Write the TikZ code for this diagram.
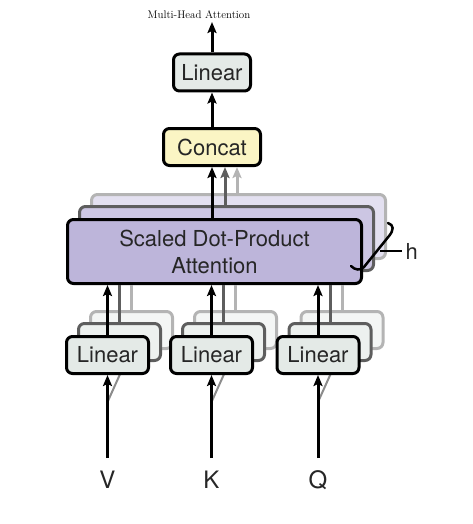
\documentclass[tikz,border=0pt]{standalone}
\usepackage{fontspec}
\setsansfont{TeX Gyre Heros}
\usetikzlibrary{arrows.meta}
\definecolor{linfill}{HTML}{E4EAE7}
\definecolor{linfillA}{HTML}{EDF1EF}
\definecolor{linfillB}{HTML}{F4F6F5}
\definecolor{catfill}{HTML}{FBF5C4}
\definecolor{sdpafill}{HTML}{BDB5DA}
\definecolor{sdpafillA}{HTML}{CCC6E3}
\definecolor{sdpafillB}{HTML}{E3E0F0}
\definecolor{greyA}{HTML}{5E5E5E}
\definecolor{greyB}{HTML}{B4B4B4}
\begin{document}
\begin{tikzpicture}[x=1pt,y=1pt,
  lbl/.style={font=\sffamily\fontsize{22}{26}\selectfont, text=black!85},
  box/.style={draw=black, line width=3pt, rounded corners=6pt, inner sep=0pt, align=center, lbl},
  copyA/.style={box, draw=greyA},
  copyB/.style={box, draw=greyB},
  linbox/.style={box, fill=linfill, minimum width=82pt, minimum height=37pt},
  linA/.style={copyA, fill=linfillA, minimum width=82pt, minimum height=37pt},
  linB/.style={copyB, fill=linfillB, minimum width=82pt, minimum height=37pt},
  sdpabox/.style={box, fill=sdpafill, minimum width=294pt, minimum height=64pt, font=\sffamily\fontsize{22}{27}\selectfont},
  sdpaA/.style={copyA, fill=sdpafillA, minimum width=294pt, minimum height=64pt},
  sdpaB/.style={copyB, fill=sdpafillB, minimum width=294pt, minimum height=64pt},
  arr/.style={line width=3pt, -{Stealth[length=11pt,width=9pt,inset=2pt]}},
  arrA/.style={arr, draw=greyA},
  arrB/.style={arr, draw=greyB},
  lineA/.style={line width=3pt, draw=greyA},
  lineB/.style={line width=3pt, draw=greyB},
  diag/.style={line width=2pt, draw=black!45},
]
\useasboundingbox (0,0) rectangle (472,-524);

% title
\node[font=\fontsize{11}{13}\selectfont] (title) at (199,-15) {Multi-Head Attention};

% output linear and concat
\node[linbox, minimum width=77pt] (linout) at (212,-72.5) {Linear};
\node[box, fill=catfill, minimum width=97pt, minimum height=37pt] (concat) at (212,-147) {Concat};
\coordinate (top) at (212,-22);
\draw[arr] (linout.north) -- (top);
\draw[arr] (concat.north) -- (linout.south);

% scaled dot-product attention stack
\node[sdpaB] (sdpaB) at (238.5,-226.5) {};
\node[sdpaA] (sdpaA) at (226.5,-238.5) {};
\draw[arrB] ([xshift=25pt]concat.south |- sdpaB.north) -- ([xshift=25pt]concat.south);
\draw[arrA] ([xshift=13pt]concat.south |- sdpaA.north) -- ([xshift=13pt]concat.south);
\node[sdpabox] (sdpa) at (214.5,-251.5) {Scaled Dot-Product\\Attention};
\draw[arr] (concat.south |- sdpa.north) -- (concat.south);

% h bracket
\draw[line width=2.5pt, line cap=round] (351,-266) .. controls (355,-270) and (360,-271) .. (364,-267) -- (389,-236) .. controls (394,-230) and (394,-225) .. (388,-223);
\coordinate (hl) at (380,-251);
\node[lbl, anchor=west] (h) at (402,-251) {h};
\draw[line width=2pt] (hl) -- (h.west);

% linear stacks
\foreach \n/\x/\t in {V/107.5/V, K/211.5/K, Q/318/Q}{
  \node[linB] (lin\n B) at (\x+24,-330) {};
  \node[linA] (lin\n A) at (\x+12,-342) {};
  \draw[lineB] (lin\n B.north) -- (lin\n B.north |- sdpa.south);
  \draw[lineA] (lin\n A.north) -- (lin\n A.north |- sdpa.south);
  \coordinate (d\n) at (\x,-402);
  \draw[diag] (d\n) -- ([xshift=6pt]lin\n A.south);
  \node[linbox] (lin\n) at (\x,-355) {Linear};
  \draw[arr] (lin\n.north) -- (lin\n.north |- sdpa.south);
  \coordinate (in\n) at (\x,-458);
  \draw[arr] (in\n) -- (lin\n.south);
  \node[lbl, font=\sffamily\fontsize{24}{28}\selectfont] (lab\n) at (\x,-480) {\t};
}
\end{tikzpicture}
\end{document}
